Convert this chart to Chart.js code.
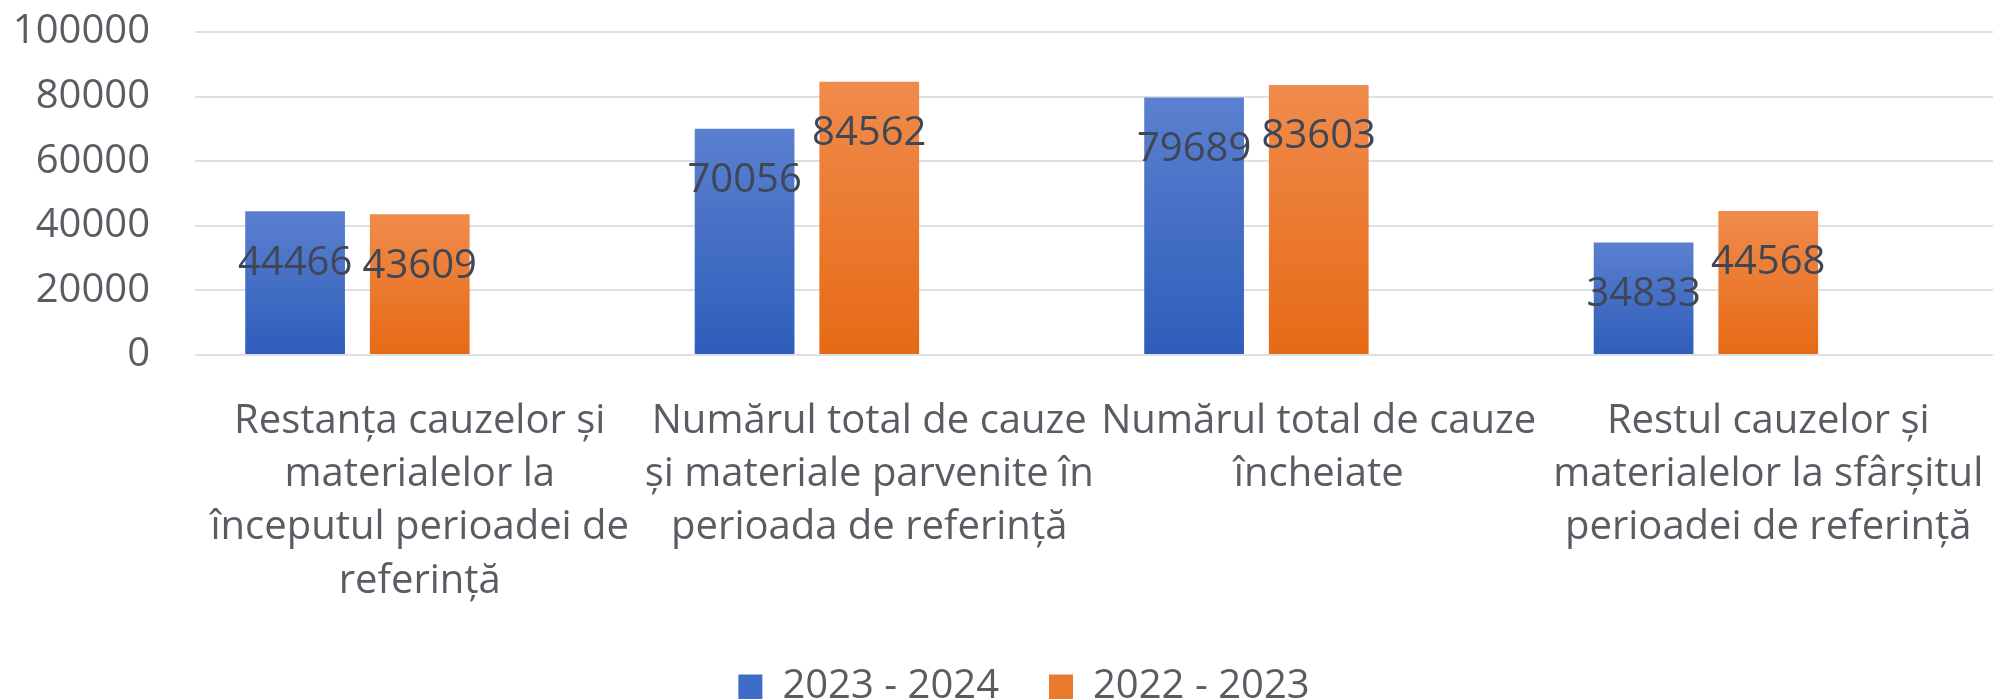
<!DOCTYPE html>
<html lang="ro">
<head>
<meta charset="utf-8">
<title>Cauze și materiale</title>
<script src="https://cdn.jsdelivr.net/npm/chart.js@4/dist/chart.umd.min.js"></script>
<style>
  html, body { margin: 0; padding: 0; background: #fff; }
  #wrap { width: 1993px; height: 699px; }
</style>
</head>
<body>
<div id="wrap"><canvas id="chart"></canvas></div>
<script>
/* global Chart */

// --- data ---
const categories = [
  ['Restanța cauzelor și', 'materialelor la', 'începutul perioadei de', 'referință'],
  ['Numărul total de cauze', 'și materiale parvenite în', 'perioada de referință'],
  ['Numărul total de cauze', 'încheiate'],
  ['Restul cauzelor și', 'materialelor la sfârșitul', 'perioadei de referință'],
];
const seriesNames = ['2023 - 2024', '2022 - 2023'];
const values2324 = [44466, 70056, 79689, 34833];
const values2223 = [43609, 84562, 83603, 44568];
const yTicks = [0, 20000, 40000, 60000, 80000, 100000];

const FONT = '"Open Sans", "Liberation Sans", sans-serif';
const TEXT = '#595d63';
const LABEL = '#3f4756';
const CLEAR = 'rgba(0,0,0,0)';

/**
 * Vertical gradient per bar, light at the top and darker at the base.
 */
function barGradient(top, bottom) {
  return (ctx) => {
    const chart = ctx.chart;
    const y = chart.scales.y;
    if (!chart.chartArea || !y || ctx.raw == null) return bottom;
    const y0 = y.getPixelForValue(ctx.raw);
    const y1 = y.getPixelForValue(0);
    const g = chart.ctx.createLinearGradient(0, y0, 0, y1);
    g.addColorStop(0, top);
    g.addColorStop(1, bottom);
    return g;
  };
}

// value labels, anchored a fixed distance below each bar top
const valueLabels = {
  id: 'valueLabels',
  afterDatasetsDraw(chart) {
    const { ctx } = chart;
    ctx.save();
    ctx.font = `40px ${FONT}`;
    ctx.fillStyle = LABEL;
    ctx.textAlign = 'center';
    ctx.textBaseline = 'middle';
    [0, 1].forEach((di) => {
      const meta = chart.getDatasetMeta(di);
      meta.data.forEach((bar, i) => {
        const v = chart.data.datasets[di].data[i];
        ctx.fillText(String(v), bar.x, bar.y + 52);
      });
    });
    ctx.restore();
  },
};

// the legend in the original sits a little right of the canvas centre
const legendShift = {
  id: 'legendShift',
  afterLayout(chart) {
    if (chart.legend) chart.legend.left += 55;
  },
};

new Chart(document.getElementById('chart'), {
  type: 'bar',
  data: {
    labels: categories,
    datasets: [
      {
        label: seriesNames[0],
        data: values2324,
        backgroundColor: barGradient('#5b80cf', '#2e5dba'),
      },
      {
        label: seriesNames[1],
        data: values2223,
        backgroundColor: barGradient('#f08b4c', '#e66a15'),
      },
      // empty series: reserves the third slot in each group, like the original
      {
        label: '',
        data: categories.map(() => null),
        backgroundColor: 'transparent',
      },
    ],
  },
  options: {
    responsive: true,
    maintainAspectRatio: false,
    animation: false,
    datasets: {
      bar: {
        categoryPercentage: 0.832,
        barPercentage: 0.8,
        borderWidth: 0,
      },
    },
    layout: { padding: { top: 32, left: 0, right: 0, bottom: -18 } },
    plugins: {
      tooltip: { enabled: false },
      legend: {
        position: 'bottom',
        labels: {
          filter: (item) => item.datasetIndex < 2,
          boxWidth: 24,
          boxHeight: 25,
          padding: 50,
          color: TEXT,
          font: { family: FONT, size: 40 },
          generateLabels: (chart) => {
            const base = Chart.defaults.plugins.legend.labels.generateLabels(chart);
            const fills = ['#3f6cc6', '#ec7a2e'];
            return base.map((it, i) => ({ ...it, fillStyle: fills[i] || 'transparent', strokeStyle: 'transparent', lineWidth: 0 }));
          },
        },
      },
    },
    scales: {
      x: {
        // invisible tick marks push the labels down without widening the padding
        grid: { display: true, drawOnChartArea: false, drawTicks: true, tickLength: 40, tickColor: CLEAR, color: CLEAR },
        border: { display: false },
        ticks: {
          color: TEXT,
          font: { family: FONT, size: 40, lineHeight: 1.33 },
          maxRotation: 0,
          autoSkip: false,
          padding: 0,
        },
        afterFit: (scale) => { scale.height = 262; },
      },
      y: {
        min: 0,
        max: 100000,
        afterBuildTicks: (scale) => { scale.ticks = yTicks.map((v) => ({ value: v })); },
        grid: { color: '#dde0e4', lineWidth: 2, drawTicks: true, tickLength: 45, tickColor: CLEAR },
        border: { display: false },
        ticks: {
          color: TEXT,
          font: { family: FONT, size: 40 },
          padding: 0,
          callback: (v) => String(v),
        },
        afterFit: (scale) => { scale.width = 195; },
      },
    },
  },
  plugins: [valueLabels, legendShift],
});
</script>
</body>
</html>
